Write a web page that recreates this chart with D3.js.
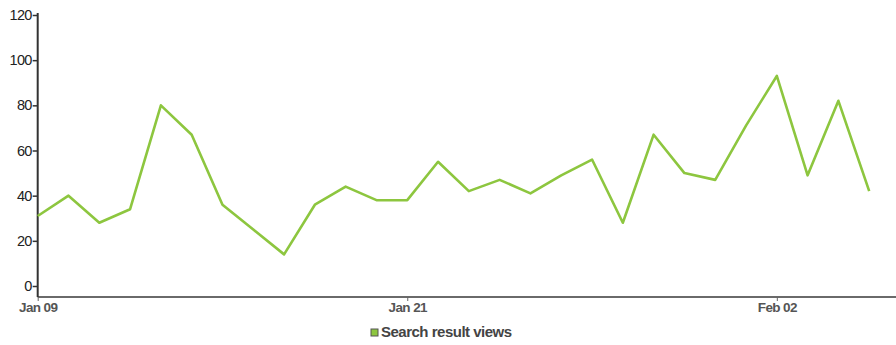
<!DOCTYPE html>
<html><head><meta charset="utf-8">
<script src="https://cdn.jsdelivr.net/npm/d3@7"></script>
<style>body{margin:0;background:#fff}svg{display:block}</style>
</head><body>
<svg id="c" width="896" height="345"></svg>
<script>
const dates = ["2009-01-09","2009-01-10","2009-01-11","2009-01-12","2009-01-13","2009-01-14","2009-01-15","2009-01-16","2009-01-17","2009-01-18","2009-01-19","2009-01-20","2009-01-21","2009-01-22","2009-01-23","2009-01-24","2009-01-25","2009-01-26","2009-01-27","2009-01-28","2009-01-29","2009-01-30","2009-01-31","2009-02-01","2009-02-02","2009-02-03","2009-02-04","2009-02-05"];
const views = [31,40,28,34,80,67,36,25,14,36,44,38,38,55,42,47,41,49,56,28,67,50,47,71,93,49,82,42];
const yTicks = [0,20,40,60,80,100,120];
const xTickDates = ["2009-01-09","2009-01-21","2009-02-02"];
const seriesName = "Search result views";

const parse = d3.utcParse("%Y-%m-%d");
const data = dates.map((d,i)=>({date:parse(d), v:views[i]}));
const svg = d3.select("#c");
const x = d3.scaleUtc().domain([parse("2009-01-09"), parse("2009-02-06")]).range([37.7, 900]);
const y = d3.scaleLinear().domain([0,120]).range([286,15]);
const green = "#8dc63f";
const font = "Arial, 'Liberation Sans', sans-serif";

// x axis
const xg = svg.append("g").attr("transform","translate(0,297)")
  .call(d3.axisBottom(x).tickValues(xTickDates.map(parse)).tickFormat(d3.utcFormat("%b %d")).tickSize(4).tickSizeOuter(0));
xg.select(".domain").attr("stroke","#6a6a6a").attr("stroke-width",2).attr("d","M37.7,0H896");
xg.selectAll(".tick line").attr("stroke","#666");
xg.selectAll(".tick text").attr("fill","#555").attr("font-family",font).attr("font-size",13.5).attr("font-weight","bold").attr("dy","0.6em").attr("letter-spacing","-0.6");

// y axis
const yg = svg.append("g").attr("transform","translate(37.7,0)")
  .call(d3.axisLeft(y).tickValues(yTicks).tickSize(5).tickSizeOuter(0));
yg.select(".domain").attr("stroke","#333").attr("stroke-width",2).attr("d","M0,13V297");
yg.selectAll(".tick line").attr("stroke","#333").attr("stroke-width",1.5);
yg.selectAll(".tick text").attr("fill","#222").attr("font-family",font).attr("font-size",14.5).attr("x",-6).attr("letter-spacing","-0.7");

// line
svg.append("path").datum(data)
  .attr("fill","none").attr("stroke",green).attr("stroke-width",2.6).attr("stroke-linejoin","round")
  .attr("d", d3.line().x(d=>x(d.date)).y(d=>y(d.v)));

// legend
const lg = svg.append("g").attr("transform","translate(371,329)");
lg.append("rect").attr("width",7).attr("height",7).attr("fill",green).attr("stroke","#555").attr("stroke-width",1);
lg.append("text").attr("x",10).attr("y",8).text(seriesName)
  .attr("fill","#444").attr("font-family",font).attr("font-size",15).attr("font-weight","bold").attr("letter-spacing","-0.5");
</script>
</body></html>
